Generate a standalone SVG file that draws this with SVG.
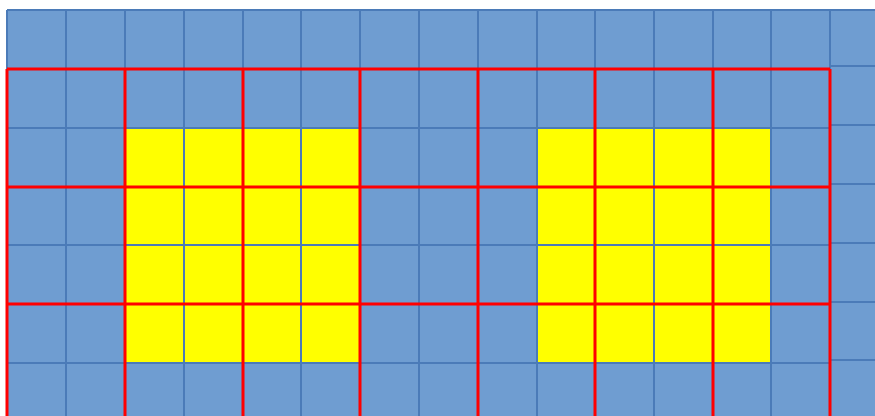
<svg xmlns="http://www.w3.org/2000/svg" width="875" height="416" viewBox="0 0 875 416">
<style>
.bl{stroke:#4B7BB8;stroke-width:2;fill:none}
.rd{stroke:#FF0000;stroke-width:3;fill:none}
.ye{fill:#FFFF00}
</style>
<rect width="875" height="416" fill="#FFFFFF"/>
<g id="grid">
<rect x="7" y="10" width="868" height="406" fill="#6F9DD1"/>
<rect class="ye" x="125" y="128" width="235" height="235"/>
<rect class="ye" x="537" y="128" width="234" height="235"/>
<path class="bl" d="M7,10V416M66,10V416M125,10V416M184,10V416M243,10V416M301,10V416M360,10V416M419,10V416M478,10V416M537,10V416M595,10V416M654,10V416M713,10V416M771,10V416M830,10V416"/>
<path class="bl" d="M7,10H875M7,69H830M7,128H830M7,187H830M7,245H830M7,304H830M7,363H830"/>
<path class="bl" d="M830,66H875M830,125H875M830,184H875M830,243H875M830,302H875M830,360H875"/>
</g>
<g id="red-grid">
<path class="rd" d="M7,69V416M125,69V416M243,69V416M360,69V416M478,69V416M595,69V416M713,69V416M830,69V416"/>
<path class="rd" d="M7,69H830M7,187H830M7,304H830"/>
</g>
</svg>
